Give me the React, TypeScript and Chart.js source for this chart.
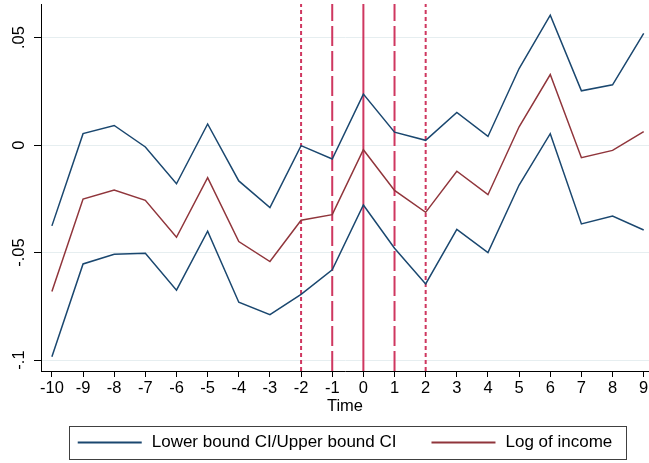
import React, { useEffect, useRef } from 'react';
import { Chart, registerables } from 'chart.js';

Chart.register(...registerables);

// ---- data ----
const times = [-10, -9, -8, -7, -6, -5, -4, -3, -2, -1, 0, 1, 2, 3, 4, 5, 6, 7, 8, 9];
const upperCI = [-0.0376, 0.0053, 0.0091, -0.0009, -0.018, 0.0098, -0.0167, -0.0291, -0.0003, -0.0065, 0.0237, 0.006, 0.0022, 0.0152, 0.004, 0.0356, 0.0604, 0.0252, 0.028, 0.0519];
const logIncome = [-0.0681, -0.0251, -0.0209, -0.0257, -0.0429, -0.0152, -0.0449, -0.0542, -0.035, -0.0324, -0.0022, -0.0211, -0.0313, -0.0122, -0.0231, 0.0085, 0.0328, -0.0059, -0.0025, 0.0062];
const lowerCI = [-0.0985, -0.0553, -0.0508, -0.0503, -0.0675, -0.0401, -0.0731, -0.0789, -0.0695, -0.058, -0.0279, -0.048, -0.0646, -0.0392, -0.05, -0.0186, 0.0053, -0.0367, -0.033, -0.0395];
const yTickValues = [-0.1, -0.05, 0, 0.05];
const xTickValues = times;
const eventLines = [-2, -1, 0, 1, 2];

const CI_LABEL = 'Lower bound CI/Upper bound CI';
const INCOME_LABEL = 'Log of income';
const X_TITLE = 'Time';

// ---- axis ranges & styles ----
const Y_MIN = -0.1051;
const Y_MAX = 0.0656;
const X_MIN = -10.35;
const X_MAX = 9.17;

const NAVY = '#1a476f';
const MAROON = '#90353b';
const EVENT_COLOR = '#cf3760';
const FONT_FAMILY = '"Liberation Sans", Arial, Helvetica, sans-serif';
const SHORT_DASH = [4, 3];
const LONG_DASH = [20, 5];
const eventLineDashes = [SHORT_DASH, LONG_DASH, [], LONG_DASH, SHORT_DASH];

const fmtY = (v: number) => {
  if (Math.abs(v) < 1e-12) return '0';
  const s = String(Math.round(v * 1000) / 1000);
  return s.replace('0.', '.');
};

const framedLegend = {
  id: 'framedLegend',
  afterDraw(chart: any) {
    const ctx = chart.ctx as CanvasRenderingContext2D;
    const items = chart.data.datasets
      .filter((d: any) => d.legendLabel)
      .map((d: any) => ({ text: d.legendLabel as string, color: d.borderColor as string }));
    ctx.save();
    ctx.font = `17px ${FONT_FAMILY}`;
    const sample = 64;
    const gap = 10;
    const itemGap = 35;
    const widths = items.map((it: any) => ctx.measureText(it.text).width);
    const total = widths.reduce((a: number, w: number) => a + sample + gap + w, 0) + itemGap * (items.length - 1);
    const cx = (chart.chartArea.left + chart.chartArea.right) / 2;
    let x = cx - total / 2;
    const bottom = chart.height - 4;
    const top = bottom - 33;
    const cy = (top + bottom) / 2;
    ctx.strokeStyle = '#404040';
    ctx.lineWidth = 1;
    ctx.strokeRect(Math.round(x - 9) + 0.5, Math.round(top) + 0.5, Math.round(total + 22), Math.round(bottom - top));
    items.forEach((it: any, i: number) => {
      ctx.strokeStyle = it.color;
      ctx.lineWidth = 2;
      ctx.beginPath();
      ctx.moveTo(x, cy);
      ctx.lineTo(x + sample, cy);
      ctx.stroke();
      ctx.fillStyle = '#000';
      ctx.textBaseline = 'middle';
      ctx.textAlign = 'left';
      ctx.fillText(it.text, x + sample + gap, cy);
      x += sample + gap + widths[i] + itemGap;
    });
    ctx.restore();
  },
};

export default function App() {
  const canvasRef = useRef<HTMLCanvasElement | null>(null);

  useEffect(() => {
    if (!canvasRef.current) return;
    const seriesPoints = (vals: number[]) => times.map((t, i) => ({ x: t, y: vals[i] }));

    const eventDatasets = eventLines.map((t, i) => ({
      type: 'line' as const,
      data: [
        { x: t, y: Y_MIN },
        { x: t, y: Y_MAX },
      ],
      borderColor: EVENT_COLOR,
      borderWidth: 2,
      borderDash: eventLineDashes[i],
      pointRadius: 0,
      order: 10,
    }));

    const chart = new Chart(canvasRef.current, {
      type: 'line',
      data: {
        datasets: [
          {
            data: seriesPoints(upperCI),
            borderColor: NAVY,
            borderWidth: 1.5,
            pointRadius: 0,
            tension: 0,
            order: 1,
            legendLabel: CI_LABEL,
          } as any,
          {
            data: seriesPoints(lowerCI),
            borderColor: NAVY,
            borderWidth: 1.5,
            pointRadius: 0,
            tension: 0,
            order: 1,
          },
          {
            data: seriesPoints(logIncome),
            borderColor: MAROON,
            borderWidth: 1.5,
            pointRadius: 0,
            tension: 0,
            order: 1,
            legendLabel: INCOME_LABEL,
          } as any,
          ...eventDatasets,
        ],
      },
      options: {
        responsive: false,
        animation: false,
        devicePixelRatio: 1,
        layout: { padding: { top: 4, left: 0, right: 0, bottom: 40 } },
        plugins: {
          legend: { display: false },
          tooltip: { enabled: false },
        },
        scales: {
          x: {
            type: 'linear',
            min: X_MIN,
            max: X_MAX,
            afterBuildTicks: (scale: any) => {
              scale.ticks = xTickValues.map((v) => ({ value: v }));
            },
            afterFit: (scale: any) => {
              scale.height = 52;
              scale.paddingLeft = 0;
              scale.paddingRight = 0;
            },
            border: { color: '#000', width: 1 },
            grid: {
              drawOnChartArea: false,
              drawTicks: true,
              tickLength: 6,
              tickColor: '#000',
              tickWidth: 1,
            },
            ticks: {
              color: '#000',
              font: { family: FONT_FAMILY, size: 16.5 },
              padding: 1.5,
              autoSkip: false,
              maxRotation: 0,
              minRotation: 0,
              callback: (v: any) => String(v),
            },
            title: {
              display: true,
              text: X_TITLE,
              color: '#000',
              font: { family: FONT_FAMILY, size: 16.5 },
              padding: { top: 0, bottom: 7 },
            },
          },
          y: {
            type: 'linear',
            min: Y_MIN,
            max: Y_MAX,
            afterBuildTicks: (scale: any) => {
              scale.ticks = yTickValues.map((v) => ({ value: v }));
            },
            afterFit: (scale: any) => {
              scale.width = 41;
              scale.paddingTop = 0;
              scale.paddingBottom = 0;
            },
            border: { color: '#000', width: 1 },
            grid: {
              color: '#e6eef0',
              lineWidth: 1,
              drawTicks: true,
              tickLength: 7,
              tickColor: '#000',
              tickWidth: 1,
            },
            ticks: {
              color: '#000',
              font: { family: FONT_FAMILY, size: 16.5 },
              padding: 0.5,
              minRotation: 90,
              maxRotation: 90,
              crossAlign: 'center',
              callback: (v: any) => fmtY(Number(v)),
            },
          },
        },
      } as any,
      plugins: [framedLegend],
    });

    return () => chart.destroy();
  }, []);

  return (
    <div style={{ position: 'absolute', left: 0, top: 0, width: 649, height: 463, background: '#fff' }}>
      <canvas ref={canvasRef} width={649} height={463} style={{ display: 'block', width: 649, height: 463 }} />
    </div>
  );
}
